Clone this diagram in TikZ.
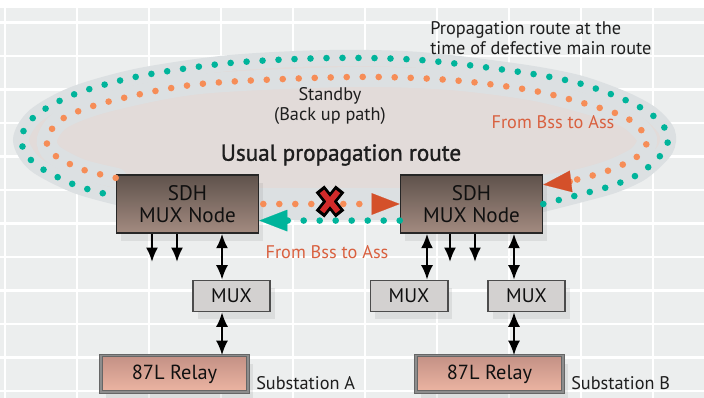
\documentclass[tikz,border=0pt]{standalone}
\usepackage{fontspec}
\setmainfont{PT Sans}
\newfontfamily\mediumfont{PT Sans}[FakeBold=1.3]
\usetikzlibrary{arrows.meta, shadows}
\definecolor{gridbg}{HTML}{ECEEEE}
\definecolor{cloudfill}{HTML}{E2DBD9}
\definecolor{halo}{HTML}{DCE0E2}
\definecolor{tealdot}{HTML}{00B49B}
\definecolor{orangedot}{HTML}{F68D57}
\definecolor{arrowred}{HTML}{D4502A}
\definecolor{fromred}{HTML}{D9603F}
\definecolor{crossred}{HTML}{D42A2A}
\definecolor{sdhtop}{HTML}{5F524C}
\definecolor{sdhbot}{HTML}{A38B80}
\definecolor{muxfill}{HTML}{D3D1D0}
\definecolor{relaytop}{HTML}{C39185}
\definecolor{relaybot}{HTML}{EDB5A3}
\definecolor{textgrey}{HTML}{1E1E1E}
\definecolor{inkblack}{HTML}{101010}
\tikzset{
  boxshadow/.style={drop shadow={opacity=0.15, shadow xshift=1.2mm, shadow yshift=-2mm}},
  sdh/.style={draw=black!85, line width=0.4mm, top color=sdhtop, bottom color=sdhbot,
    text=inkblack, minimum width=35.5mm, minimum height=14.5mm, align=center, inner sep=0pt,
    font=\fontsize{15}{16}\selectfont\color{inkblack}, boxshadow},
  mux/.style={draw=black!70, line width=0.45mm, fill=muxfill, text=inkblack, minimum width=19.3mm,
    minimum height=7.75mm, inner sep=0pt, font=\fontsize{14}{14}\selectfont, boxshadow},
  relay/.style={draw=black!60, double=black!45, double distance=0.45mm, line width=0.25mm,
    top color=relaytop, bottom color=relaybot, text=inkblack, minimum width=36.8mm, minimum height=9.2mm,
    inner sep=0pt, font=\fontsize{14.5}{14.5}\selectfont, boxshadow},
  note/.style={text=textgrey, inner sep=0pt, font=\fontsize{13}{14.5}\selectfont},
  fromnote/.style={text=fromred, inner sep=0pt, font=\fontsize{13}{13}\selectfont},
  tealloop/.style={draw=tealdot, line width=1.65mm, line cap=round, dash pattern=on 0pt off 4mm},
  orangeloop/.style={draw=orangedot, line width=1.65mm, line cap=round, dash pattern=on 0pt off 4mm},
  bigtip/.style={-{Triangle[length=7mm, width=5.4mm, line width=0.1pt, color=#1]}},
}

\begin{document}
\begin{tikzpicture}[x=0.25mm, y=0.25mm, >={Latex[length=3.6mm, width=3mm]}]
\useasboundingbox (0,0) rectangle (704,398);

% grid and cloud
\fill[white] (0,0) rectangle (704,398);
\fill[gridbg] (0,0) rectangle (704,390);
\foreach \x in {5,77,...,653} \draw[white, line width=0.6mm] (\x,0) -- (\x,390);
\foreach \y in {7,40.5,...,376} \draw[white, line width=0.6mm] (0,\y) -- (704,\y);
\fill[cloudfill] plot[smooth cycle] coordinates {(543,194) (582,204) (614,213) (642,226) (665,248) (667,266) (651,284) (623,299) (578,315) (520,326) (420,338) (330,340) (230,335) (140,322) (75,304) (35,282) (21,258) (35,234) (75,213) (117,201) (330,186)};
\draw[halo, line width=4mm, line cap=round] plot[smooth] coordinates {(543,194) (582,204) (614,213) (642,226) (665,248) (667,266) (651,284) (623,299) (578,315) (520,326) (420,338) (330,340) (230,335) (140,322) (75,304) (35,282) (21,258) (35,234) (75,213) (117,201)};
\draw[halo, line width=5mm, line cap=round] plot[smooth] coordinates {(117,220) (81,229) (53,244) (47,259) (62,279) (107,296) (200,314) (350,321) (450,318) (535,307) (600,290) (630,278) (647,259) (638,242) (610,228) (575,218) (543,213)};
\draw[halo, line width=8mm] (258,194) -- (400,194);

% SDH nodes, MUX and relays
\node[sdh] (sdhA) at (187.5,194) {{\color{inkblack}SDH}\\{\color{inkblack}MUX Node}};
\node[sdh] (sdhB) at (471.5,194) {{\color{inkblack}SDH}\\{\color{inkblack}MUX Node}};
\node[mux] (muxA) at (231.5,102) {MUX};
\node[mux] (muxB1) at (409,102) {MUX};
\node[mux] (muxB2) at (526.5,102) {MUX};
\node[relay] (relayA) at (174.5,24) {87L Relay};
\node[relay] (relayB) at (489.5,24) {87L Relay};

% texts
\node[note, anchor=north west, align=left] (backupnote) at (430,377) {Propagation route at the\\time of defective main route};
\node[note, align=center] (standby) at (330,292) {Standby\\(Back up path)};
\node[note, font=\fontsize{16.5}{16.5}\mediumfont] (usual) at (341,243) {Usual propagation route};
\node[fromnote] (fromtop) at (553,276) {From Bss to Ass};
\node[fromnote] (frombottom) at (327,146) {From Bss to Ass};
\node[note, anchor=west] (subA) at (256,15) {Substation A};
\node[note, anchor=west] (subB) at (571,15) {Substation B};

% backup loops
\draw[tealloop] plot[smooth] coordinates {(sdhB.east) (582,204) (614,213) (642,226) (665,248) (667,266) (651,284) (623,299) (578,315) (520,326) (420,338) (330,340) (230,335) (140,322) (75,304) (35,282) (21,258) (35,234) (75,213) (sdhA.174)};
\draw[orangeloop, bigtip=arrowred] plot[smooth] coordinates {(sdhA.160) (81,229) (53,244) (47,259) (62,279) (107,296) (200,314) (350,321) (450,318) (535,307) (600,290) (630,278) (647,259) (638,242) (610,228) (575,218) (sdhB.15)};

% usual route between the nodes
\draw[orangeloop, bigtip=arrowred, dash phase=3mm] (sdhA.east) -- (sdhB.west);
\draw[tealloop, bigtip=tealdot] (sdhB.193) -- (sdhA.347);

% broken main route
\draw[line width=2.8mm] (320,209) -- (340,184) (320,184) -- (340,209);
\draw[crossred, line width=1.4mm] (322,206.5) -- (338,186.5) (322,186.5) -- (338,206.5);

% station links
\coordinate (linkA) at (222,0);
\coordinate (linkB1) at (427,0);
\coordinate (linkB2) at (514,0);
\coordinate (dropA1) at (152,136);
\coordinate (dropA2) at (177,136);
\coordinate (dropB1) at (450,136);
\coordinate (dropB2) at (475,136);
\draw[->, line width=0.5mm] (sdhA.south -| dropA1) -- (dropA1);
\draw[->, line width=0.5mm] (sdhA.south -| dropA2) -- (dropA2);
\draw[->, line width=0.5mm] (sdhB.south -| dropB1) -- (dropB1);
\draw[->, line width=0.5mm] (sdhB.south -| dropB2) -- (dropB2);
\draw[<->, line width=0.5mm] (sdhA.south -| linkA) -- (muxA.north -| linkA);
\draw[<->, line width=0.5mm] (muxA.south -| linkA) -- (relayA.north -| linkA);
\draw[<->, line width=0.5mm] (sdhB.south -| linkB1) -- (muxB1.north -| linkB1);
\draw[<->, line width=0.5mm] (sdhB.south -| linkB2) -- (muxB2.north -| linkB2);
\draw[<->, line width=0.5mm] (muxB2.south -| linkB2) -- (relayB.north -| linkB2);
\end{tikzpicture}
\end{document}
